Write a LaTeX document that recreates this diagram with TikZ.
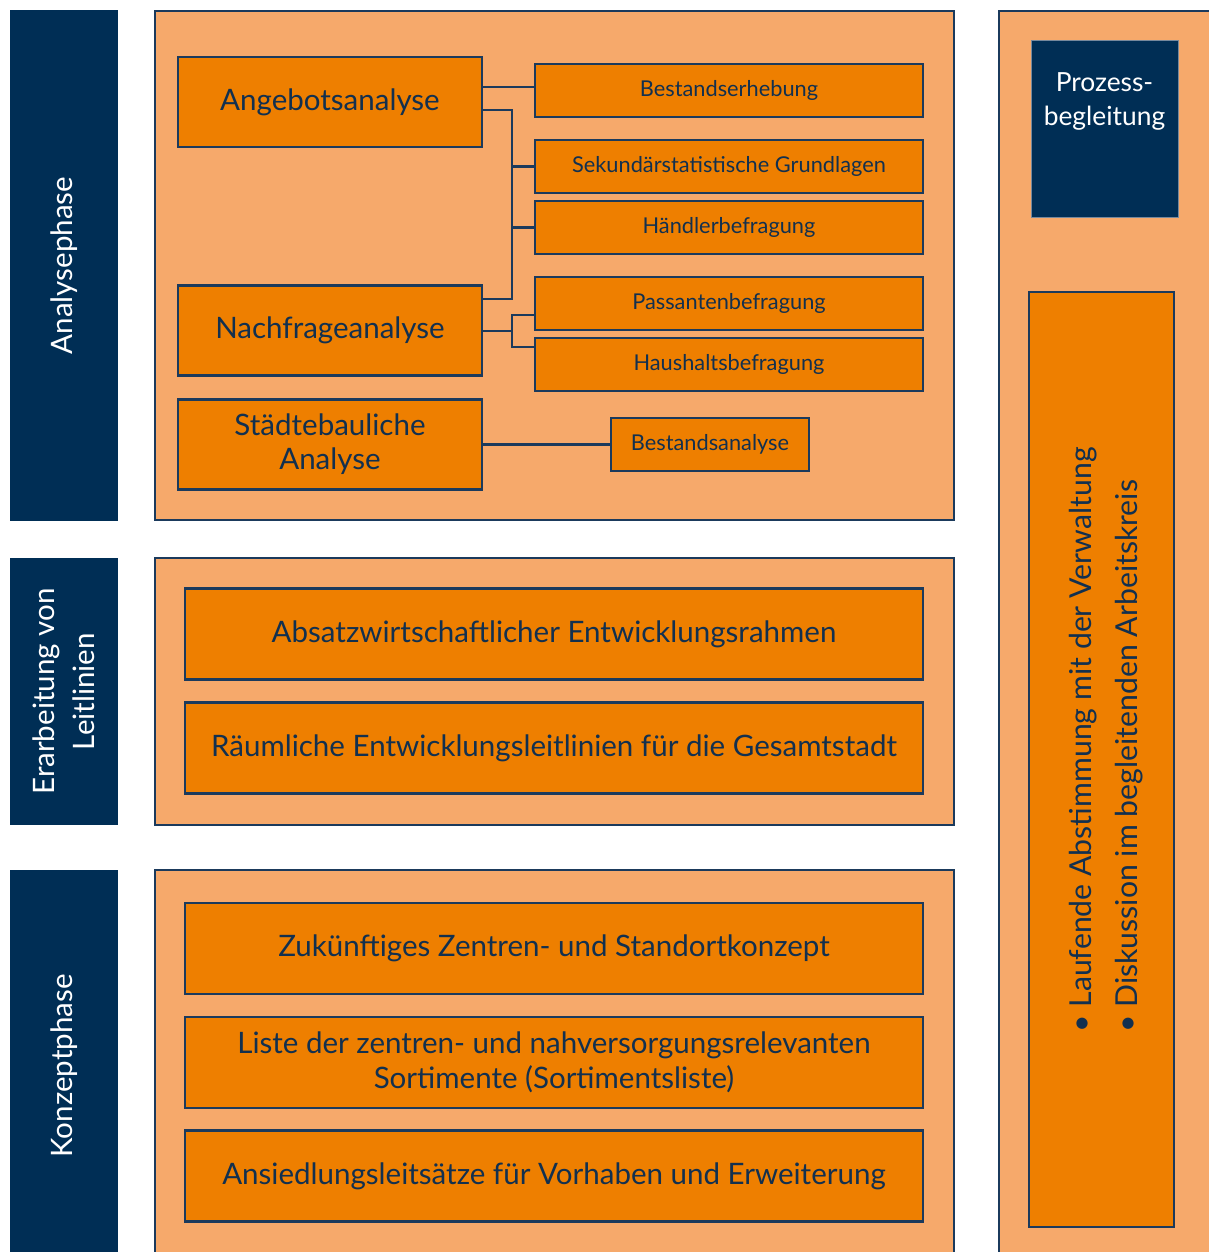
\documentclass[tikz,border=0pt]{standalone}
\usepackage{fontspec}
\setmainfont{Lato}
\usepackage{tikz}
\usetikzlibrary{positioning}
\definecolor{phasefill}{HTML}{002E55}
\definecolor{panelfill}{HTML}{F6A96B}
\definecolor{boxfill}{HTML}{EE7F00}
\definecolor{linenavy}{HTML}{1B3A5C}
\definecolor{textnavy}{HTML}{12304F}

\begin{document}
\begin{tikzpicture}[
  x=0.02cm,
  y=-0.02cm,
  every node/.style={
    rectangle,
    align=center,
    inner sep=2pt
  },
  phase/.style={
    fill=phasefill,
    text=white,
    rotate=90,
    minimum height=2.16cm,
    font=\fontsize{16.8}{22.5}\selectfont
  },
  panel/.style={
    draw=linenavy,
    fill=panelfill,
    line width=0.9pt
  },
  bigbox/.style={
    draw=linenavy,
    fill=boxfill,
    text=textnavy,
    line width=1.2pt,
    minimum width=6.08cm,
    minimum height=1.8cm,
    font=\fontsize{16.8}{19.5}\selectfont
  },
  smallbox/.style={
    draw=linenavy,
    fill=boxfill,
    text=textnavy,
    line width=1.2pt,
    minimum width=7.76cm,
    minimum height=1.06cm,
    font=\fontsize{12.4}{14}\selectfont
  },
  widebox/.style={
    draw=linenavy,
    fill=boxfill,
    text=textnavy,
    line width=1.2pt,
    minimum width=14.76cm,
    minimum height=1.82cm,
    font=\fontsize{16.8}{20}\selectfont
  },
  link/.style={
    draw=linenavy,
    line width=1.3pt
  }
]

\useasboundingbox (0,0) rectangle (1209,1252);
\clip (0,0) rectangle (1209,1252);

% Phase bars on the left
\node[phase, minimum width=10.22cm] (analyse)    at (64,265.5) {Analysephase};
\node[phase, minimum width=5.34cm]  (leitlinien) at (64,691.5) {Erarbeitung von\\Leitlinien};
\node[phase, minimum width=7.84cm]  (konzept)    at (64,1066)  {Konzeptphase};

% Panels
\draw[panel] (155,11) rectangle (954,520);
\draw[panel] (155,558) rectangle (954,825);
\draw[panel] (155,870) rectangle (954,1262);
\draw[panel] (999,11) rectangle (1215,1262);

% Analysephase, left column
\node[bigbox] (angebot)    at (330,102)   {Angebotsanalyse};
\node[bigbox] (nachfrage)  at (330,330.5) {Nachfrageanalyse};
\node[bigbox] (staedtebau) at (330,444.5) {Städtebauliche\\Analyse};

% Analysephase, right column
\node[smallbox] (erhebung)   at (729,90.5)  {Bestandserhebung};
\node[smallbox] (sekundaer)  at (729,166.5) {Sekundärstatistische Grundlagen};
\node[smallbox] (haendler)   at (729,227.5) {Händlerbefragung};
\node[smallbox] (passanten)  at (729,303.5) {Passantenbefragung};
\node[smallbox] (haushalt)   at (729,364.5) {Haushaltsbefragung};
\node[smallbox, minimum width=3.96cm] (bestand) at (710,444.5) {Bestandsanalyse};

% Leitlinien
\node[widebox] (absatz)    at (554,634) {Absatzwirtschaftlicher Entwicklungsrahmen};
\node[widebox] (raeumlich) at (554,748) {Räumliche Entwicklungsleitlinien für die Gesamtstadt};

% Konzeptphase
\node[widebox] (zentren)    at (554,948.5)  {Zukünftiges Zentren- und Standortkonzept};
\node[widebox] (liste)      at (554,1062.5) {Liste der zentren- und nahversorgungsrelevanten\\Sortimente (Sortimentsliste)};
\node[widebox] (ansiedlung) at (554,1176)   {Ansiedlungsleitsätze für Vorhaben und Erweiterung};

% Prozessbegleitung, right column
\node[fill=phasefill, draw=linenavy!60, minimum width=2.94cm, minimum height=3.54cm] (prozess) at (1104.5,128.5) {};
\node[text=white, font=\fontsize{15}{19.5}\selectfont, below=0.58cm of prozess.north] (prozesslabel) {Prozess-\\begleitung};
\node[fill=boxfill, draw=linenavy, line width=1.2pt, minimum width=2.9cm, minimum height=18.7cm] (begleitung) at (1101.5,759.5) {};
\node[rotate=90, align=left, text=textnavy, font=\fontsize{17.2}{26.5}\selectfont] (abstimmung) at (1106,740)
  {\textbullet\ Laufende Abstimmung mit der Verwaltung\\\textbullet\ Diskussion im begleitenden Arbeitskreis};

% Bus coordinates
\coordinate (erhebungin) at ([yshift=0.07cm]erhebung.west);
\coordinate (busa)    at (512,110);
\coordinate (busb)    at (512,299);
\coordinate (busc)    at (512,331);
\coordinate (busctop) at (512,315);
\coordinate (buscbot) at (512,347);

% Connectors
\draw[link] (angebot.east |- erhebungin) -- (erhebungin);
\draw[link] (angebot.east |- busa) -- (busa) -- (busb) -- (nachfrage.east |- busb);
\draw[link] (busa |- sekundaer.west) -- (sekundaer.west);
\draw[link] (busa |- haendler.west) -- (haendler.west);
\draw[link] (nachfrage.east |- busc) -- (busc);
\draw[link] (passanten.west |- busctop) -- (busctop) -- (buscbot) -- (haushalt.west |- buscbot);
\draw[link] (staedtebau.east) -- (bestand.west);

\end{tikzpicture}
\end{document}
